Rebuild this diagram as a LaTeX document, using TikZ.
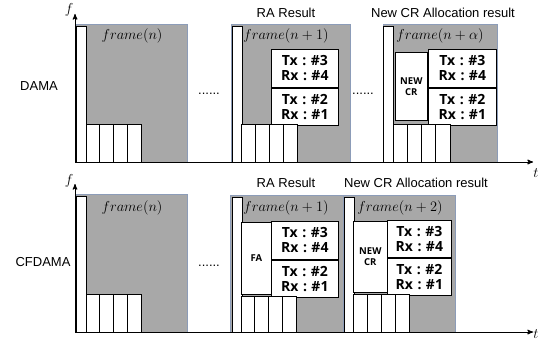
\documentclass[tikz,border=0pt]{standalone}
\usepackage{fontspec}
\setmainfont{Liberation Sans}
\newfontfamily\boxfont{Open Sans}
\usetikzlibrary{arrows,positioning}
\definecolor{framegray}{HTML}{A8A8A8}
\definecolor{frameedge}{HTML}{8C9CB8}
\newcommand{\txsep}{\hspace{.32em}:\hspace{.32em}}

\begin{document}
\begin{tikzpicture}[x=1pt,y=-1pt,>=stealth',
  frame node/.style={rectangle,anchor=north west,fill=framegray,draw=frameedge,line width=0.7pt,inner sep=0pt},
  bar node/.style={rectangle,anchor=north west,fill=white,draw,line width=0.9pt,inner sep=0pt,minimum width=10pt},
  box node/.style={rectangle,anchor=north west,fill=white,draw,line width=0.7pt,inner sep=0pt,align=center,font=\boxfont\bfseries\fontsize{14}{15}\selectfont},
  small node/.style={rectangle,anchor=north west,fill=white,draw,line width=0.7pt,inner sep=0pt,align=center,font=\boxfont\bfseries\fontsize{9.5}{11}\selectfont},
  label node/.style={font=\fontsize{13}{15}\selectfont},
  math node/.style={font=\fontsize{14.5}{15}\selectfont},
  slot/.style={fill=white,draw,line width=0.7pt}]

  \useasboundingbox (0,0) rectangle (540,342);

  % DAMA row
  \node[frame node,minimum width=111pt,minimum height=138pt] (frA) at (76,24) {};
  \node[bar node,minimum height=136pt] (barA) at (76,26) {};
  \foreach \i in {0,...,3}
    \draw[slot] (86+\i*13.75,124) rectangle ++(13.75,38);

  \node[frame node,minimum width=119pt,minimum height=138pt] (frB) at (231,24) {};
  \node[bar node,minimum height=136pt] (barB) at (232,26) {};
  \node[box node,minimum width=67pt,minimum height=38pt] (txB) at (271,49) {Tx\txsep\#3\\Rx\txsep\#4};
  \node[box node,minimum width=67pt,minimum height=37pt] (rxB) at (txB.south west) {Tx\txsep\#2\\Rx\txsep\#1};
  \foreach \i in {0,...,3}
    \draw[slot] (241+\i*14,124) rectangle ++(14,38);

  \node[frame node,minimum width=114pt,minimum height=138pt] (frC) at (383,24) {};
  \node[bar node,minimum height=136pt] (barC) at (383,26) {};
  \node[small node,minimum width=32pt,minimum height=68pt] (crC) at (395,52) {NEW\\CR};
  \node[box node,minimum width=68pt,minimum height=38pt] (txC) at (428,49) {Tx\txsep\#3\\Rx\txsep\#4};
  \node[box node,minimum width=68pt,minimum height=37pt] (rxC) at (txC.south west) {Tx\txsep\#2\\Rx\txsep\#1};
  \foreach \i in {0,...,3}
    \draw[slot] (393+\i*14.25,124) rectangle ++(14.25,38);

  % CFDAMA row
  \node[frame node,minimum width=111pt,minimum height=138pt] (frD) at (76,194) {};
  \node[bar node,minimum height=136pt] (barD) at (76,196) {};
  \foreach \i in {0,...,3}
    \draw[slot] (86+\i*13.75,294) rectangle ++(13.75,38);

  \node[frame node,minimum width=113pt,minimum height=137pt] (frE) at (230,195) {};
  \node[bar node,minimum height=135pt] (barE) at (232,197) {};
  \node[small node,minimum width=30pt,minimum height=72pt] (faE) at (241,222) {FA};
  \node[box node,minimum width=67pt,minimum height=38pt] (txE) at (271,221) {Tx\txsep\#3\\Rx\txsep\#4};
  \node[box node,minimum width=67pt,minimum height=37pt] (rxE) at (txE.south west) {Tx\txsep\#2\\Rx\txsep\#1};
  \foreach \i in {0,...,3}
    \draw[slot] (241+\i*13.75,296) rectangle ++(13.75,36);

  \node[frame node,minimum width=112pt,minimum height=137pt] (frF) at (343,195) {};
  \node[bar node,minimum height=135pt] (barF) at (344,197) {};
  \node[small node,minimum width=34pt,minimum height=71pt] (crF) at (353,221) {NEW\\CR};
  \node[box node,minimum width=64pt,minimum height=37pt] (txF) at (387,220) {Tx\txsep\#3\\Rx\txsep\#4};
  \node[box node,minimum width=64pt,minimum height=37pt] (rxF) at (txF.south west) {Tx\txsep\#2\\Rx\txsep\#1};
  \foreach \i in {0,...,3}
    \draw[slot] (353+\i*14,294) rectangle ++(14,38);

  % axes
  \coordinate (oA) at (75,162);
  \coordinate (fA) at (75,14);
  \coordinate (tA) at (533,162);
  \coordinate (oD) at (75,332);
  \coordinate (fD) at (75,184);
  \coordinate (tD) at (533,332);
  \draw[->,line width=1pt] (oA) -- (fA);
  \draw[->,line width=1pt] (oA) -- (tA);
  \draw[->,line width=1pt] (oD) -- (fD);
  \draw[->,line width=1pt] (oD) -- (tD);

  \node[math node] (fa) at (69,10) {$f$};
  \node[math node] (ta) at (536,173) {$t$};
  \node[math node] (fd) at (69,181) {$f$};
  \node[math node] (td) at (536,334) {$t$};

  % labels
  \node[label node] (dama) at (39,86) {DAMA};
  \node[label node] (cfdama) at (43,262) {CFDAMA};
  \node[label node,anchor=base] (dotsA) at (209,95) {......};
  \node[label node,anchor=base] (dotsB) at (363,95) {......};
  \node[label node,anchor=base] (dotsD) at (209,266) {......};
  \node[label node] (raA) at (286,13) {RA Result};
  \node[label node] (newA) at (443,13) {New CR Allocation result};
  \node[label node] (raE) at (286,183) {RA Result};
  \node[label node] (newF) at (416,183) {New CR Allocation result};

  \node[math node] (lbA) at (132,36) {$frame(n)$};
  \node[math node] (lbB) at (286,36) {$frame(n+1)$};
  \node[math node] (lbC) at (440,36) {$frame(n+\alpha)$};
  \node[math node] (lbD) at (132,208) {$frame(n)$};
  \node[math node] (lbE) at (286,208) {$frame(n+1)$};
  \node[math node] (lbF) at (400,208) {$frame(n+2)$};

\end{tikzpicture}
\end{document}
